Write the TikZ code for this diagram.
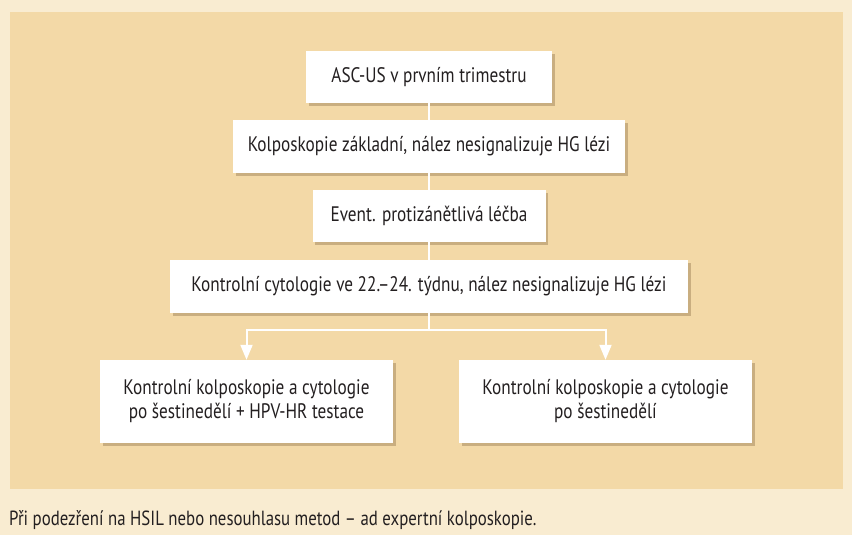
\documentclass[tikz,border=0pt]{standalone}
\usepackage{fontspec}
\setmainfont{PT Sans}[FakeStretch=0.82]
\usetikzlibrary{shadows,arrows.meta}
\definecolor{outerbg}{RGB}{249,236,209}
\definecolor{panelc}{RGB}{243,217,167}
\definecolor{shadowc}{RGB}{140,110,70}
\definecolor{textc}{RGB}{35,31,32}
\begin{document}
\begin{tikzpicture}[x=1pt,y=-1pt,
  font=\fontsize{21}{24}\selectfont,
  box/.style={fill=white, inner sep=0pt, align=center, text=textc,
    drop shadow={shadow xshift=2.5pt, shadow yshift=-3pt, fill=shadowc, opacity=0.4}},
  conn/.style={draw=white, line width=2pt},
  arr/.style={conn, -{Triangle[width=12pt,length=15pt]}}]
\useasboundingbox (0,0) rectangle (852,535);
\fill[outerbg] (0,0) rectangle (852,535);
\fill[panelc] (10,12) rectangle (843,489);

\node[box, minimum width=246pt, minimum height=52pt] (a) at (429,77) {ASC-US v prvním trimestru};
\node[box, minimum width=392pt, minimum height=53pt] (b) at (429,146.5) {Kolposkopie základní, nález nesignalizuje HG lézi};
\node[box, minimum width=233pt, minimum height=52pt] (c) at (429,216) {Event. protizánětlivá léčba};
\node[box, minimum width=518pt, minimum height=53pt] (d) at (429,286.5) {Kontrolní cytologie ve 22.–24. týdnu, nález nesignalizuje HG lézi};
\node[box, minimum width=293pt, minimum height=83pt] (l) at (246.5,401.5) {Kontrolní kolposkopie a cytologie\\po šestinedělí + HPV-HR testace};
\node[box, minimum width=293pt, minimum height=83pt] (r) at (605.5,401.5) {Kontrolní kolposkopie a cytologie\\po šestinedělí};

\coordinate (j) at (429,330);
\draw[conn] (a) -- (b);
\draw[conn] (b) -- (c);
\draw[conn] (c) -- (d);
\draw[conn] (d.south) -- (j);
\draw[arr] (j) -| (l.north);
\draw[arr] (j) -| (r.north);

\node[anchor=base west, text=textc, inner sep=0pt, font=\fontsize{20.5}{24}\selectfont] (cap) at (9,525) {Při podezření na HSIL nebo nesouhlasu metod – ad expertní kolposkopie.};
\end{tikzpicture}
\end{document}
